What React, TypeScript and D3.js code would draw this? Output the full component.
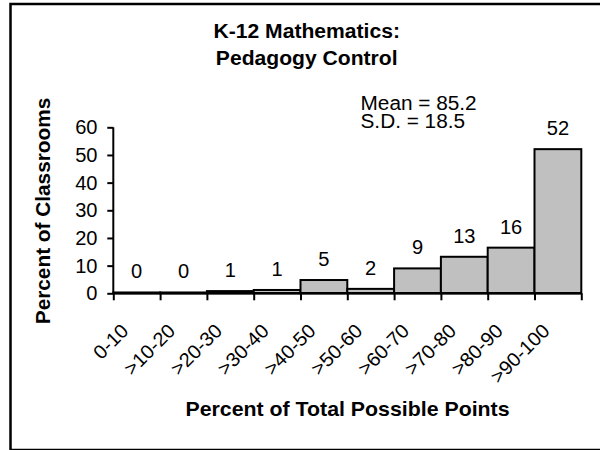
import React, { useRef, useEffect } from 'react';
import * as d3 from 'd3';

const categories = ['0-10', '>10-20', '>20-30', '>30-40', '>40-50', '>50-60', '>60-70', '>70-80', '>80-90', '>90-100'];
const percentValues = [0.3, 0.3, 0.8, 1.2, 4.8, 1.6, 9.0, 13.2, 16.5, 52.1];
const valueLabels = ['0', '0', '1', '1', '5', '2', '9', '13', '16', '52'];
const yTicks = [0, 10, 20, 30, 40, 50, 60];
const binEdges = [0, 10, 20, 30, 40, 50, 60, 70, 80, 90, 100];
const titleLines = ['K-12 Mathematics:', 'Pedagogy Control'];
const statLines = ['Mean = 85.2', 'S.D. = 18.5'];
const xTitle = 'Percent of Total Possible Points';
const yTitle = 'Percent of Classrooms';

const FONT = "Arial, 'Liberation Sans', sans-serif";

const App = () => {
  const svgRef = useRef<SVGSVGElement>(null);

  useEffect(() => {
    const width = 600;
    const height = 450;
    const left = 113.3, right = 581.3, top = 127.3, bottom = 293.3;

    const svg = d3.select(svgRef.current);
    svg.selectAll('*').remove();
    svg.attr('width', width).attr('height', height);

    // text helper: small stretch along the baseline to match the reference glyph widths
    const label = (str: string, x: number, y: number, opts: any = {}) => {
      const { size = 19.5, bold = false, anchor = 'middle', rotate = 0, stretch = 1.03 } = opts;
      svg.append('text')
        .attr('transform', `translate(${x},${y}) rotate(${rotate}) scale(${stretch},1)`)
        .attr('text-anchor', anchor)
        .attr('font-family', FONT)
        .attr('font-size', size)
        .attr('font-weight', bold ? 'bold' : 'normal')
        .attr('fill', '#000')
        .text(str);
    };

    // outer frame (right edge falls off the picture)
    svg.append('rect')
      .attr('x', 10.5).attr('y', 4)
      .attr('width', 620).attr('height', 446)
      .attr('fill', 'white')
      .attr('stroke', '#000')
      .attr('stroke-width', 2.5);

    const x = d3.scaleBand().domain(categories).range([left, right]).padding(0);
    const xEdge = d3.scaleLinear().domain([0, 100]).range([left, right]);
    const y = d3.scaleLinear().domain([0, 60]).range([bottom, top]);

    // bars
    svg.append('g')
      .selectAll('rect')
      .data(percentValues)
      .enter()
      .append('rect')
      .attr('x', (d, i) => x(categories[i]) as number)
      .attr('y', d => y(d))
      .attr('width', x.bandwidth())
      .attr('height', d => y(0) - y(d))
      .attr('fill', '#c0c0c0')
      .attr('stroke', '#000')
      .attr('stroke-width', 2);

    // value labels
    percentValues.forEach((v, i) => {
      const cx = (x(categories[i]) as number) + x.bandwidth() / 2;
      label(valueLabels[i], cx, y(v) - 14, { size: 19.5 });
    });

    // y axis
    const yAxis = svg.append('g')
      .attr('transform', `translate(${left},0)`)
      .call(d3.axisLeft(y).tickValues(yTicks).tickSize(6).tickFormat(() => ''));
    yAxis.select('.domain').attr('stroke', '#000').attr('stroke-width', 2).attr('d', `M0,${top}V${bottom}`);
    yAxis.selectAll('.tick line').attr('stroke', '#000').attr('stroke-width', 2);
    yTicks.forEach(t => label(String(t), 97.5, y(t) + 7, { size: 19.5, anchor: 'end' }));

    // x axis, ticks on bin edges
    const xAxis = svg.append('g')
      .attr('transform', `translate(0,${bottom})`)
      .call(d3.axisBottom(xEdge).tickValues(binEdges).tickSize(7).tickFormat(() => ''));
    xAxis.select('.domain').attr('stroke', '#000').attr('stroke-width', 2.5).attr('d', `M${left},0H${right}`);
    xAxis.selectAll('.tick line').attr('stroke', '#000').attr('stroke-width', 2);

    categories.forEach(c => {
      const cx = (x(c) as number) + x.bandwidth() / 2;
      label(c, cx - 7, 332, { size: 19.5, anchor: 'end', rotate: -45 });
    });

    // titles
    label(titleLines[0], 306.7, 38.3, { size: 20.5, bold: true });
    label(titleLines[1], 306.7, 64.5, { size: 20.5, bold: true });
    label(xTitle, 347.5, 416, { size: 20.5, bold: true, stretch: 1.04 });
    label(yTitle, 49.5, 211, { size: 20, bold: true, rotate: -90, stretch: 1.04 });

    // stats
    label(statLines[0], 360.5, 110, { size: 20, anchor: 'start', stretch: 1.04 });
    label(statLines[1], 360.5, 128.3, { size: 20, anchor: 'start', stretch: 1.04 });
  }, []);

  return <svg ref={svgRef} style={{ position: 'absolute', left: 0, top: 0 }}></svg>;
};

export default App;
